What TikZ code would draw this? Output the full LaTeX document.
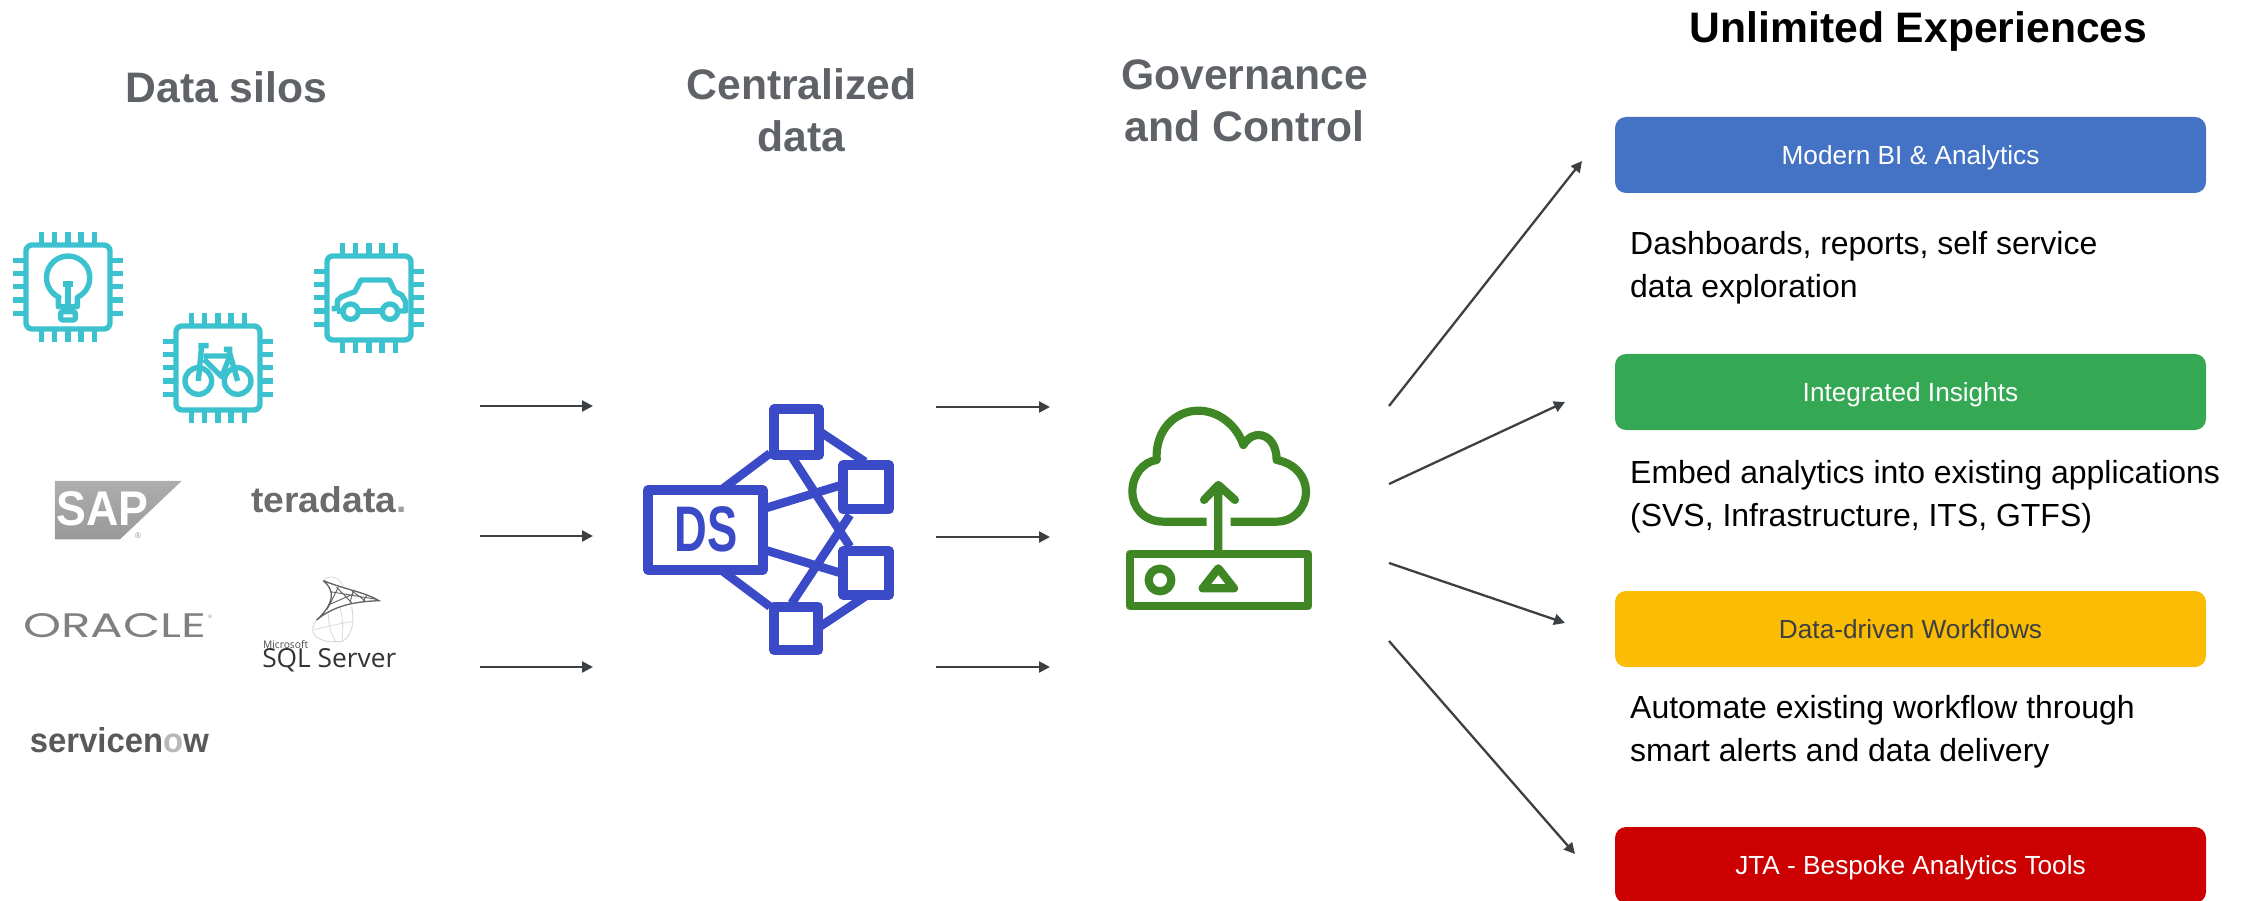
\documentclass[tikz,border=0pt]{standalone}
\usepackage{graphicx}
\usepackage{fontspec}
\setmainfont{Liberation Sans}
\newfontfamily\openf{Open Sans}
\newfontfamily\popf{Poppins}
\newfontfamily\latof{Lato}
\usetikzlibrary{arrows.meta}
\definecolor{headgray}{HTML}{5F6368}
\definecolor{arrowc}{HTML}{3C4043}
\definecolor{chipc}{HTML}{3CC2CF}
\definecolor{dsblue}{HTML}{3B4BC8}
\definecolor{cloudg}{HTML}{3F8624}
\definecolor{bluebox}{HTML}{4472C4}
\definecolor{greenbox}{HTML}{34A853}
\definecolor{yellowbox}{HTML}{FBBC04}
\definecolor{redbox}{HTML}{CC0000}
\newcommand{\tiletext}[1]{\raisebox{-9.5pt}[0pt][0pt]{#1}}
\tikzset{
  heading/.style={font=\fontsize{42.67}{51.5}\selectfont\bfseries,text=headgray,align=center,inner sep=0pt},
  bodytext/.style={font=\fontsize{31.96}{43}\selectfont,text=black,align=left,anchor=west,inner sep=0pt},
  tile/.style={rounded corners=11pt,minimum width=591pt,minimum height=76pt,inner sep=0pt,font=\fontsize{26.2}{30}\selectfont,text=white},
  flow/.style={draw=arrowc,line width=2.3pt,-{Triangle[length=11pt,width=11pt]}},
  chipline/.style={draw=chipc,line width=5.4pt,line join=round},
  dsline/.style={draw=dsblue,line width=10pt,line join=round},
  dslink/.style={draw=dsblue,line width=8.6pt},
  cloudline/.style={draw=cloudg,line width=8.2pt,line join=round,line cap=round},
  logo/.style={inner sep=0pt}
}
\newcommand{\chipframe}[2]{%
  \begin{scope}[shift={(#1,#2)}]
    \draw[chipline,rounded corners=6pt] (78,105) rectangle (330,357);
    \foreach \pa in {124,164,204,243,283}{
      \draw[chipline] (\pa,65) -- (\pa,100);
      \draw[chipline] (\pa,362) -- (\pa,397);
    }
    \foreach \pb in {151,190,230,270,310}{
      \draw[chipline] (38,\pb) -- (72,\pb);
      \draw[chipline] (336,\pb) -- (370,\pb);
    }
  \end{scope}}
\begin{document}
\begin{tikzpicture}[x=1pt,y=-1pt]
\useasboundingbox (0,0) rectangle (2252,901);
\clip (0,0) rectangle (2252,901);

% headings
\node[heading] (hsilos) at (226.5,87) {Data silos};
\node[heading] (hcentral) at (801.5,110.5) {Centralized\\data};
\node[heading] (hgov) at (1244.5,101) {Governance\\and Control};
\node[heading,text=black] (hunlim) at (1918.5,31) {Unlimited Experiences};

% chips
\begin{scope}[shift={(0,210)},x=.3333pt,y=-.3333pt]
  \chipframe{0}{0}
  \chipframe{450}{243}
  \chipframe{903}{33}
  % bulb
  \draw[chipline] (175,290) -- (175,265) -- (177,262) arc[start angle=115,end angle=425,radius=65] -- (232,265) -- (232,290) -- cycle;
  \draw[chipline] (204,290) -- (204,222) (190,222) -- (218,222);
  \draw[chipline,rounded corners=2pt] (182,305) rectangle (226,330);
  % bike
  \draw[chipline] (595,513) circle[radius=40] (713,513) circle[radius=40];
  \draw[chipline] (595,513) -- (605,407) (595,407) -- (626,407);
  \draw[chipline] (610,438) -- (690,438) -- (665,500) -- (612,448);
  \draw[chipline] (672,418) -- (697,418) (686,418) -- (713,513);
  % car
  \draw[chipline] (995,296) -- (1012,296) -- (1012,272) -- (1025,260) -- (1065,245) -- (1083,210) -- (1168,210) -- (1185,245) -- (1205,255) -- (1217,275) -- (1217,303) -- (1195,303);
  \draw[chipline] (1075,303) -- (1147,303) (1012,303) -- (1030,303);
  \draw[chipline] (1052,305) circle[radius=23] (1170,305) circle[radius=23];
\end{scope}

% logos
\begin{scope}[shift={(0,450)},x=.3333pt,y=-.3333pt]
  \shade[top color=black!32,bottom color=black!40] (165,93) -- (545,93) -- (360,268) -- (165,268) -- cycle;
  \node[logo] (lsap) at (307,176) {\resizebox{92pt}{34pt}{\fontsize{46}{46}\selectfont\bfseries\color{white}SAP}};
  \node[logo] (lsapr) at (414,258) {\fontsize{8}{8}\selectfont\color{black!45}®};
  \node[logo] (lter) at (987,148) {\resizebox{155pt}{26pt}{\fontsize{34}{34}\selectfont\bfseries\color{black!58}teradata\color{black!38}.}};
  \node[logo] (lora) at (345,528) {\resizebox{183pt}{24pt}{\popf\fontsize{30}{30}\selectfont\color{black!50}ORACLE}};
  \node[logo] (lorar) at (630,501) {\fontsize{5}{5}\selectfont\color{black!50}®};
  \node[logo] (lsql) at (988,632) {\resizebox{134pt}{19pt}{\openf\fontsize{27}{27}\selectfont\color{black!80}SQL Server}};
  \node[logo] (lms) at (857,585) {\resizebox{45pt}{8pt}{\openf\fontsize{14}{14}\selectfont\color{black!70}Microsoft}};
  \node[logo] (lsn) at (358,872) {\resizebox{179pt}{25pt}{\fontsize{32}{32}\selectfont\bfseries\color{black!65}servicen\color{black!28}o\color{black!65}w}};
  % SQL Server sail
  \draw[black!15,line width=1pt] (950,510) .. controls (925,540) and (940,570) .. (990,575) -- (1025,575) .. controls (1055,560) and (1065,520) .. (1055,470);
  \draw[black!15,line width=.8pt] (985,490) .. controls (985,530) and (995,560) .. (1010,575) (1020,470) .. controls (1030,510) and (1030,550) .. (1025,575) (940,540) .. controls (980,530) and (1020,520) .. (1058,515);
  \draw[black!15,line width=.8pt] (970,392) .. controls (985,375) and (1015,375) .. (1030,410);
  \draw[black!62,line width=1.3pt] (970,392) .. controls (1040,420) and (1090,425) .. (1137,452) .. controls (1080,455) and (1010,460) .. (950,510) (970,392) .. controls (1005,420) and (1005,460) .. (950,510);
  \draw[black!62,line width=.9pt] (1015,412) -- (982,478) (1060,422) -- (1050,458) (1100,436) -- (1090,454) (990,425) -- (1130,448) (985,465) -- (1060,432) (1010,412) -- (1055,458) (1055,422) -- (1095,452);
\end{scope}

% DS icon
\begin{scope}[shift={(620,390)},x=.3333pt,y=-.3333pt]
  \draw[dslink] (310,295) -- (450,190) (310,545) -- (450,650);
  \draw[dslink] (600,125) -- (735,215) (600,710) -- (735,620);
  \draw[dslink] (435,355) -- (665,285) (435,480) -- (665,550);
  \draw[dslink] (515,200) -- (690,470) (515,640) -- (690,375);
  \draw[dsline] (85,300) rectangle (428,540);
  \draw[dsline] (463,58) rectangle (597,195);
  \draw[dsline] (670,225) rectangle (807,358);
  \draw[dsline] (670,483) rectangle (807,615);
  \draw[dsline] (462,650) rectangle (595,780);
  \node[logo] (dstext) at (258,418) {\resizebox{63pt}{45pt}{\fontsize{60}{60}\selectfont\bfseries\color{dsblue}DS}};
\end{scope}

% cloud icon
\begin{scope}[shift={(1100,390)},x=.3333pt,y=-.3333pt]
  \draw[cloudline,line cap=butt] (320,395) -- (190,395) .. controls (130,395) and (97,350) .. (97,305) .. controls (97,255) and (130,215) .. (170,210) .. controls (165,120) and (225,62) .. (295,62) .. controls (355,62) and (410,105) .. (430,165) .. controls (445,140) and (465,135) .. (475,135) .. controls (510,135) and (530,170) .. (530,210) .. controls (585,220) and (618,260) .. (618,305) .. controls (618,355) and (580,395) .. (530,395) -- (392,395);
  \draw[cloudline] (355,488) -- (355,285) (312,330) -- (355,285) (405,330) -- (355,285);
  \draw[cloudline] (90,492) rectangle (625,648);
  \draw[cloudline] (180,570) circle[radius=34];
  \draw[cloudline] (355,535) -- (402,595) -- (308,595) -- cycle;
\end{scope}

% tiles
\node[tile,fill=bluebox] (t1) at (1910.5,155) {\tiletext{Modern BI \& Analytics}};
\node[tile,fill=greenbox] (t2) at (1910.5,392) {\tiletext{Integrated Insights}};
\node[tile,fill=yellowbox,text=arrowc] (t3) at (1910.5,629) {\tiletext{Data-driven Workflows}};
\node[tile,fill=redbox] (t4) at (1910.5,865) {\tiletext{JTA - Bespoke Analytics Tools}};

% descriptions
\node[bodytext] (d1) at (1630,268) {Dashboards, reports, self service\\data exploration};
\node[bodytext] (d2) at (1630,496.5) {Embed analytics into existing applications\\(SVS, Infrastructure, ITS, GTFS)};
\node[bodytext] (d3) at (1630,732) {Automate existing workflow through\\smart alerts and data delivery};

% arrows
\foreach \ya/\na in {406/1,536/2,667/3}{
  \coordinate (as\na) at (480,\ya);
  \coordinate (ae\na) at (593,\ya);
  \draw[flow] (as\na) -- (ae\na);
}
\foreach \yb/\nb in {407/1,537/2,667/3}{
  \coordinate (bs\nb) at (936,\yb);
  \coordinate (be\nb) at (1050,\yb);
  \draw[flow] (bs\nb) -- (be\nb);
}
\coordinate (cs1) at (1389,406); \coordinate (ce1) at (1582,161);
\coordinate (cs2) at (1389,484); \coordinate (ce2) at (1565,402);
\coordinate (cs3) at (1389,563); \coordinate (ce3) at (1565,623);
\coordinate (cs4) at (1389,641); \coordinate (ce4) at (1575,854);
\draw[flow] (cs1) -- (ce1);
\draw[flow] (cs2) -- (ce2);
\draw[flow] (cs3) -- (ce3);
\draw[flow] (cs4) -- (ce4);
\end{tikzpicture}
\end{document}
